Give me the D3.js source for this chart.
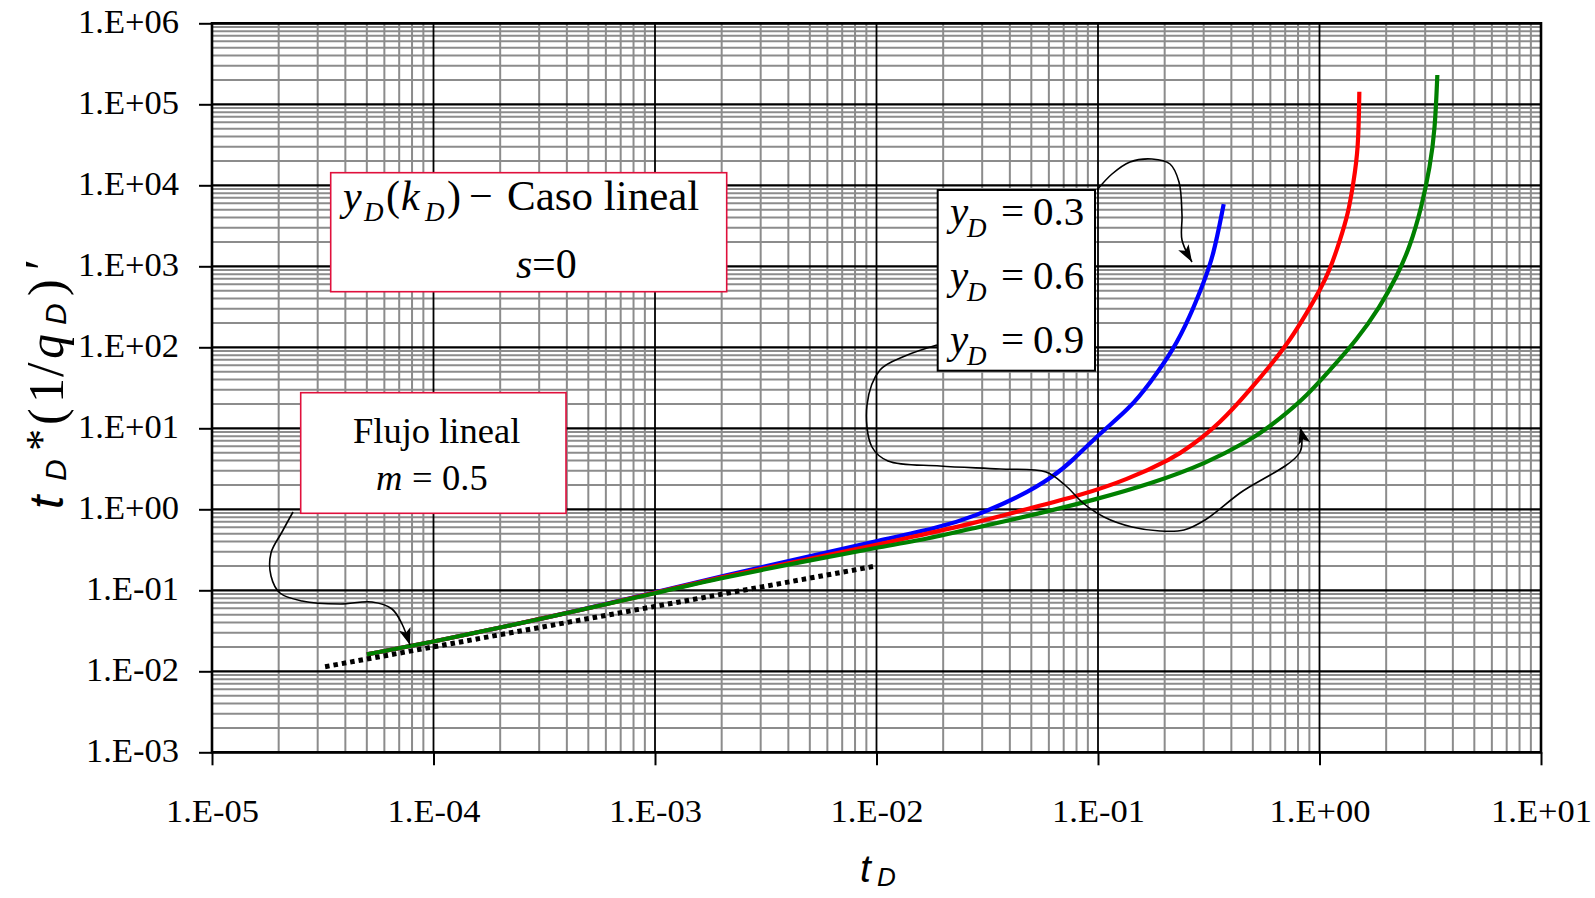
<!DOCTYPE html>
<html>
<head>
<meta charset="utf-8">
<title>tD*(1/qD)' vs tD</title>
<script src="https://cdn.jsdelivr.net/npm/d3@7/dist/d3.min.js"></script>
<style>
  html, body { margin: 0; padding: 0; background: #fff; }
  svg { display: block; }
</style>
</head>
<body>
<svg id="chart" width="1595" height="898"></svg>
<script>
// ---------- data ----------
const xTickValues = [1e-5, 1e-4, 1e-3, 1e-2, 1e-1, 1e0, 1e1];
const xTickLabels = ["1.E-05", "1.E-04", "1.E-03", "1.E-02", "1.E-01", "1.E+00", "1.E+01"];
const yTickValues = [1e-3, 1e-2, 1e-1, 1e0, 1e1, 1e2, 1e3, 1e4, 1e5, 1e6];
const yTickLabels = ["1.E-03", "1.E-02", "1.E-01", "1.E+00", "1.E+01", "1.E+02", "1.E+03", "1.E+04", "1.E+05", "1.E+06"];

// yD = 0.3
const tD_03  = [5e-5, 1e-4, 2e-4, 5e-4, 1e-3, 2e-3, 5e-3, 1e-2, 0.0194, 0.0274, 0.0445, 0.0628, 0.0772, 0.102, 0.1395, 0.1718, 0.2188, 0.260, 0.2988, 0.3315, 0.3694];
const val_03 = [0.0162, 0.0232, 0.0345, 0.060, 0.094, 0.150, 0.262, 0.405, 0.600, 0.811, 1.43, 2.52, 4.06, 8.67, 17.8, 36.3, 92.6, 239, 617, 1314, 5845];

// yD = 0.6
const tD_06  = [5e-5, 1e-4, 2e-4, 5e-4, 1e-3, 2e-3, 5e-3, 1e-2, 0.01367, 0.02735, 0.046, 0.083, 0.1348, 0.2188, 0.260, 0.3556, 0.485, 0.6186, 0.736, 0.875, 1.005, 1.115, 1.238, 1.349, 1.421, 1.497, 1.513];
const val_06 = [0.0162, 0.0232, 0.0345, 0.060, 0.093, 0.146, 0.245, 0.365, 0.44, 0.671, 0.98, 1.48, 2.30, 4.3, 5.9, 11.5, 29.7, 66, 123, 263, 510, 900, 2113, 4510, 10590, 27270, 143200];

// yD = 0.9
const tD_09  = [5e-5, 1e-4, 2e-4, 5e-4, 1e-3, 2e-3, 5e-3, 1e-2, 0.01744, 0.02735, 0.0547, 0.0953, 0.1718, 0.3097, 0.485, 0.5775, 0.845, 1.115, 1.472, 1.876, 2.231, 2.563, 2.893, 3.155, 3.322, 3.404];
const val_09 = [0.0162, 0.0232, 0.0345, 0.060, 0.092, 0.142, 0.235, 0.335, 0.438, 0.582, 0.893, 1.30, 2.05, 3.70, 7.17, 9.8, 22.4, 52.5, 123, 317, 744, 1746, 5445, 16980, 48170, 230000];

// linear-flow reference line, slope m = 0.5
const tD_slope  = [3.24e-5, 1e-2];
const val_slope = [0.0114, 0.2];

const seriesColors = ["#0000ff", "#ff0000", "#008000"];

// ---------- layout ----------
const W = 1595, H = 898;
const plot = { left: 212, right: 1541, top: 23.3, bottom: 752.3 };
const serif = "'Liberation Serif','Times New Roman',Times,serif";
const sans  = "'Liberation Sans',Arial,Helvetica,sans-serif";

const svg = d3.select("#chart");

const x = d3.scaleLog().domain([1e-5, 1e1]).range([plot.left, plot.right]);
const y = d3.scaleLog().domain([1e-3, 1e6]).range([plot.bottom, plot.top]);

const isDecade = v => Math.abs(Math.log10(v) - Math.round(Math.log10(v))) < 1e-9;

// ---------- grid ----------
const grid = svg.append("g");
const xMinor = x.ticks().filter(v => !isDecade(v));
const yMinor = y.ticks().filter(v => !isDecade(v));

grid.selectAll("line.ym").data(yMinor).join("line")
  .attr("class", "ym")
  .attr("x1", plot.left).attr("x2", plot.right)
  .attr("y1", d => y(d)).attr("y2", d => y(d))
  .attr("stroke", "#8c8c8c").attr("stroke-width", 2);
grid.selectAll("line.xm").data(xMinor).join("line")
  .attr("class", "xm")
  .attr("y1", plot.top).attr("y2", plot.bottom)
  .attr("x1", d => x(d)).attr("x2", d => x(d))
  .attr("stroke", "#8c8c8c").attr("stroke-width", 2);
grid.selectAll("line.yM").data(yTickValues).join("line")
  .attr("class", "yM")
  .attr("x1", plot.left).attr("x2", plot.right)
  .attr("y1", d => y(d)).attr("y2", d => y(d))
  .attr("stroke", "#000").attr("stroke-width", 2.2);
grid.selectAll("line.xM").data(xTickValues).join("line")
  .attr("class", "xM")
  .attr("y1", plot.top).attr("y2", plot.bottom)
  .attr("x1", d => x(d)).attr("x2", d => x(d))
  .attr("stroke", "#000").attr("stroke-width", 1.8);

// ---------- curves ----------
const line = d3.line().x(d => x(d[0])).y(d => y(d[1])).curve(d3.curveBasis);
const curves = [
  d3.zip(tD_03, val_03),
  d3.zip(tD_06, val_06),
  d3.zip(tD_09, val_09)
];
svg.append("g").selectAll("path").data(curves).join("path")
  .attr("d", line)
  .attr("fill", "none")
  .attr("stroke", (d, i) => seriesColors[i])
  .attr("stroke-width", 4.2)
  .attr("stroke-linejoin", "round");

svg.append("path")
  .attr("d", d3.line().x(d => x(d[0])).y(d => y(d[1]))(d3.zip(tD_slope, val_slope)))
  .attr("fill", "none")
  .attr("stroke", "#000")
  .attr("stroke-width", 5)
  .attr("stroke-dasharray", "4.5 4");

// ---------- frame + axes ----------
svg.append("rect")
  .attr("x", plot.left).attr("y", plot.top)
  .attr("width", plot.right - plot.left).attr("height", plot.bottom - plot.top)
  .attr("fill", "none").attr("stroke", "#000").attr("stroke-width", 2.6);

const xAxis = svg.append("g")
  .attr("transform", `translate(0,${plot.bottom})`)
  .call(d3.axisBottom(x).tickValues(xTickValues)
        .tickFormat((d, i) => xTickLabels[i]).tickSize(13).tickSizeOuter(0));
xAxis.select(".domain").remove();
xAxis.selectAll(".tick line").attr("stroke", "#000").attr("stroke-width", 2);
xAxis.selectAll(".tick text")
  .attr("y", null).attr("dy", null)
  .attr("transform", "translate(0,69.4) scale(1,0.92)")
  .attr("fill", "#000")
  .style("font-family", serif).style("font-size", "34.5px");

const yAxis = svg.append("g")
  .attr("transform", `translate(${plot.left},0)`)
  .call(d3.axisLeft(y).tickValues(yTickValues)
        .tickFormat((d, i) => yTickLabels[i]).tickSize(13).tickSizeOuter(0));
yAxis.select(".domain").remove();
yAxis.selectAll(".tick line").attr("stroke", "#000").attr("stroke-width", 2);
yAxis.selectAll(".tick text")
  .attr("x", -33).attr("dy", null).attr("y", 8.8)
  .attr("fill", "#000")
  .style("font-family", serif).style("font-size", "34.5px");

// ---------- axis titles ----------
const xt = svg.append("text").attr("fill", "#000");
xt.append("tspan").attr("x", 860).attr("y", 881.7)
  .style("font-family", sans).style("font-style", "italic").style("font-size", "39px").text("t");
xt.append("tspan").attr("x", 877).attr("y", 886)
  .style("font-family", sans).style("font-style", "italic").style("font-size", "26px").text("D");

const yt = svg.append("g").attr("transform", "translate(63,0) rotate(-90)");
const ytPieces = [
  { s: "t", at: 509, dy: 0,  fam: sans,  it: true,  fs: 48 },
  { s: "D", at: 481, dy: 3,  fam: sans,  it: true,  fs: 30 },
  { s: "*", at: 451, dy: -7, fam: serif, it: false, fs: 44 },
  { s: "(", at: 425, dy: 0,  fam: serif, it: false, fs: 50 },
  { s: "1", at: 403, dy: 0,  fam: serif, it: false, fs: 50 },
  { s: "/", at: 377, dy: 0,  fam: serif, it: false, fs: 52 },
  { s: "q", at: 359, dy: 0,  fam: serif, it: true,  fs: 50 },
  { s: "D", at: 325, dy: 3,  fam: sans,  it: true,  fs: 30 },
  { s: ")", at: 296, dy: 0,  fam: serif, it: false, fs: 50 },
  { s: "\u2032", at: 270, dy: -4, fam: serif, it: false, fs: 50 }
];
const ytText = yt.append("text").attr("fill", "#000");
ytPieces.forEach(p => {
  ytText.append("tspan")
    .attr("x", -p.at).attr("y", p.dy)
    .style("font-family", p.fam)
    .style("font-style", p.it ? "italic" : "normal")
    .style("font-size", p.fs + "px")
    .text(p.s);
});

// ---------- annotations ----------
const ann = svg.append("g");

svg.append("defs").append("marker")
  .attr("id", "head")
  .attr("markerUnits", "userSpaceOnUse")
  .attr("markerWidth", 18).attr("markerHeight", 12)
  .attr("refX", 17).attr("refY", 6)
  .attr("orient", "auto")
  .append("path").attr("d", "M0,0 L17,6 L0,12 L4,6 Z").attr("fill", "#000");

const arrowLine = d3.line().curve(d3.curveCatmullRom.alpha(0.5));
const arrows = [
  [[293, 512], [282, 532], [271, 553], [271, 576], [280, 593], [302, 601], [340, 604], [372, 602], [392, 609], [402, 624], [410, 645]],
  [[1097, 190], [1112, 174], [1130, 162], [1152, 159], [1170, 164], [1179, 182], [1182, 215], [1182, 240], [1192, 262]],
  [[937, 345], [905, 356], [880, 370], [867, 405], [872, 447], [888, 461], [940, 466], [1000, 469], [1046, 472], [1066, 486], [1083, 503], [1104, 517], [1132, 527], [1160, 531], [1184, 530], [1205, 520], [1240, 493], [1300, 452], [1300, 427]]
];
ann.selectAll("path.arrow").data(arrows).join("path")
  .attr("class", "arrow")
  .attr("d", arrowLine)
  .attr("fill", "none").attr("stroke", "#000").attr("stroke-width", 1.6)
  .attr("marker-end", "url(#head)");

function addText(parent, pieces) {
  const t = parent.append("text").attr("fill", "#000");
  pieces.forEach(p => {
    t.append("tspan")
      .attr("x", p.x).attr("y", p.y)
      .style("font-family", p.fam || serif)
      .style("font-style", p.it ? "italic" : "normal")
      .style("font-size", p.fs + "px")
      .text(p.s);
  });
}

// box: yD(kD) - Caso lineal, s=0
ann.append("rect").attr("x", 330.7).attr("y", 172.7).attr("width", 396).attr("height", 119)
  .attr("fill", "#fff").attr("stroke", "#e0103c").attr("stroke-width", 1.6);
addText(ann, [
  { s: "y", x: 343, y: 210, it: true, fs: 42 },
  { s: "D", x: 364, y: 221, it: true, fs: 27 },
  { s: "(", x: 386, y: 210, fs: 42 },
  { s: "k", x: 401, y: 210, it: true, fs: 42 },
  { s: "D", x: 425, y: 221, it: true, fs: 27 },
  { s: ")", x: 447, y: 210, fs: 42 },
  { s: "\u2212", x: 469, y: 210, fs: 42 },
  { s: "Caso lineal", x: 507, y: 210, fs: 43 },
  { s: "s", x: 516, y: 278.3, it: true, fs: 42 },
  { s: "=0", x: 532, y: 278.3, fs: 42 }
]);

// box: Flujo lineal, m = 0.5
ann.append("rect").attr("x", 300.7).attr("y", 392.7).attr("width", 265.3).attr("height", 120.6)
  .attr("fill", "#fff").attr("stroke", "#e0103c").attr("stroke-width", 1.6);
addText(ann, [
  { s: "Flujo lineal", x: 353, y: 443, fs: 36.5 },
  { s: "m", x: 376, y: 490, it: true, fs: 36.5 },
  { s: "=", x: 412, y: 490, fs: 36.5 },
  { s: "0.5", x: 442, y: 490, fs: 36.5 }
]);

// box: yD values
ann.append("rect").attr("x", 937.7).attr("y", 190).attr("width", 157.3).attr("height", 180.7)
  .attr("fill", "#fff").attr("stroke", "#000").attr("stroke-width", 2);
const yDLabels = ["0.3", "0.6", "0.9"];
const yDBase = [225, 289, 353.3];
yDLabels.forEach((lab, i) => {
  addText(ann, [
    { s: "y", x: 950, y: yDBase[i], it: true, fs: 41 },
    { s: "D", x: 967, y: yDBase[i] + 11.5, it: true, fs: 27 },
    { s: "=", x: 1001, y: yDBase[i], fs: 41 },
    { s: lab, x: 1033, y: yDBase[i], fs: 41 }
  ]);
});
</script>
</body>
</html>
